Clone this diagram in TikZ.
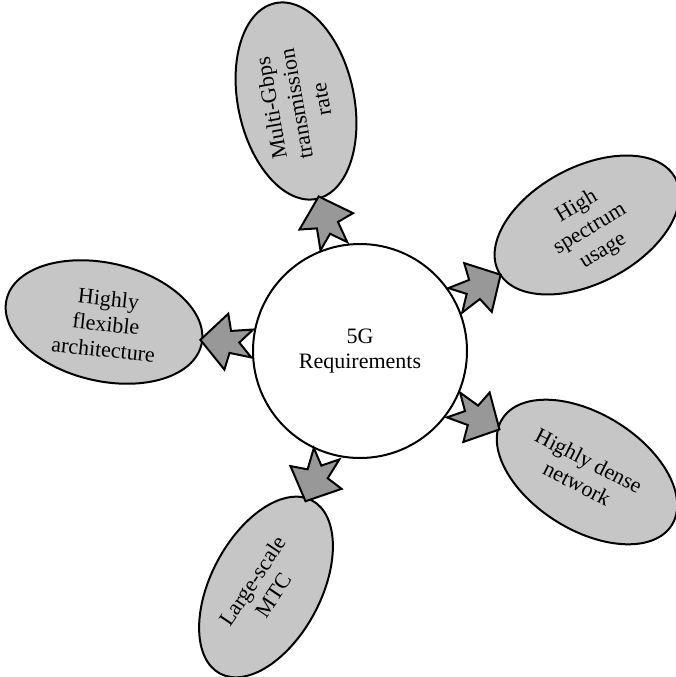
\documentclass[tikz,border=0pt]{standalone}
\usepackage{fontspec}
\setmainfont{Liberation Serif}
\usetikzlibrary{shapes.geometric}
\definecolor{reqgray}{RGB}{198,198,198}
\definecolor{pointergray}{RGB}{152,152,152}
% requirement pointer: tail on the hub at angle #2, pointing along angle #3
\newcommand\reqpointer[3]{%
  \coordinate (#1) at (hub.#2);
  \begin{scope}[shift={(#1)}, rotate=#3]
    \draw[pointer] (52,0) -- (26,28) -- (22,11) -- (0,14) -- (13,0)
      -- (0,-14) -- (22,-11) -- (26,-28) -- cycle;
  \end{scope}}
\begin{document}
\begin{tikzpicture}[x=1pt, y=-1pt,
  hub/.style={circle, draw=black, line width=2pt, fill=white,
    minimum size=214pt, inner sep=0pt},
  req/.style={ellipse, draw=black, line width=2pt, fill=reqgray,
    minimum width=200pt, minimum height=116pt, inner sep=0pt},
  lbl/.style={align=center, inner sep=0pt, text=black,
    font=\fontsize{22}{25.5}\selectfont},
  pointer/.style={draw=black, line width=2pt, fill=pointergray,
    line join=miter}]
\useasboundingbox (0,0) rectangle (676,677);

% central hub
\node[hub] (hub) at (360,351) {};
\node[lbl] (hubT) at (hub.center) {5G\\Requirements};

% requirement ellipses
\node[req, rotate=102] (multi) at (296,101) {};
\node[lbl, rotate=100] (multiT) at (296,104) {Multi-Gbps\\transmission\\rate};

\node[req, rotate=28] (spec) at (587,225) {};
\node[lbl, rotate=31] (specT) at (590,229) {High\\spectrum\\usage};

\node[req, rotate=-13, minimum height=118pt] (flex) at (104,322) {};
\node[lbl, rotate=-6] (flexT) at (106,324) {Highly\\flexible\\architecture};

\node[req, rotate=-32] (dense) at (587,472) {};
\node[lbl, rotate=-27] (denseT) at (583,472) {Highly dense\\network};

\node[req, rotate=62, minimum width=196pt, minimum height=110pt] (mtc) at (266,587) {};
\node[lbl, rotate=56] (mtcT) at (263,588) {Large-scale\\MTC};

% pointers from the hub to each requirement
\reqpointer{pMulti}{104.4}{107}
\reqpointer{pSpec}{28.4}{29.5}
\reqpointer{pFlex}{176}{176}
\reqpointer{pDense}{-30}{-28}
\reqpointer{pMtc}{-108}{-114}
\end{tikzpicture}
\end{document}
